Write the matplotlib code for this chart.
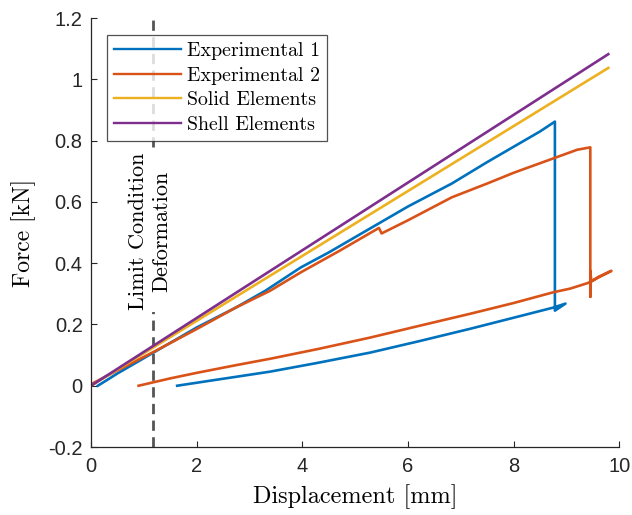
import matplotlib
matplotlib.use("Agg")
import matplotlib.pyplot as plt

# ---- data ----
exp1_x = [0.13, 0.5, 1.0, 1.5, 2.0, 2.74, 3.3, 3.97, 4.5, 5.0, 5.47, 6.0, 6.83, 7.5, 8.0, 8.5, 8.78,
          8.78, 8.98, 8.75, 8.0, 7.18, 6.2, 5.28, 4.3, 3.39, 2.74, 2.2, 1.63]
exp1_y = [0.0, 0.04, 0.09, 0.14, 0.19, 0.255, 0.31, 0.386, 0.435, 0.485, 0.532, 0.585, 0.66, 0.73, 0.78, 0.83, 0.862,
          0.245, 0.268, 0.255, 0.222, 0.186, 0.145, 0.108, 0.075, 0.046, 0.029, 0.015, 0.0]

exp2_x = [0.0, 0.5, 1.18, 2.0, 2.74, 3.39, 3.97, 4.7, 5.2, 5.45, 5.5, 6.0, 6.83, 7.5, 8.0, 8.8, 9.2, 9.45,
          9.45, 9.45, 9.47, 9.6, 9.85, 9.4, 9.07, 8.75, 8.0, 7.18, 6.2, 5.28, 4.3, 3.39, 2.74, 2.0, 1.5, 0.9]
exp2_y = [0.005, 0.05, 0.11, 0.185, 0.255, 0.31, 0.37, 0.44, 0.49, 0.515, 0.497, 0.54, 0.615, 0.66, 0.695, 0.745, 0.77, 0.778,
          0.29, 0.375, 0.34, 0.355, 0.375, 0.335, 0.317, 0.305, 0.27, 0.235, 0.195, 0.157, 0.12, 0.088, 0.067, 0.042, 0.024, 0.0]

solid_x = [0.0, 9.79]
solid_y = [0.0, 1.037]
shell_x = [0.0, 9.79]
shell_y = [0.0, 1.082]

limit_x = 1.18
xticks = [0, 2, 4, 6, 8, 10]
yticks = [-0.2, 0, 0.2, 0.4, 0.6, 0.8, 1.0, 1.2]
ytick_labels = ['-0.2', '0', '0.2', '0.4', '0.6', '0.8', '1', '1.2']
labels = ['Experimental 1', 'Experimental 2', 'Solid Elements', 'Shell Elements']

# ---- figure ----
fig = plt.figure(figsize=(6.32, 5.15), dpi=100)
ax = fig.add_axes([0.144, 0.132, 0.836, 0.833])

c1, c2, c3, c4 = '#0072BD', '#D95319', '#EDB120', '#7E2F8E'
ax.plot(exp1_x, exp1_y, color=c1, lw=1.9, label=labels[0])
ax.plot(exp2_x, exp2_y, color=c2, lw=1.9, label=labels[1])
ax.plot(solid_x, solid_y, color=c3, lw=1.9, label=labels[2])
ax.plot(shell_x, shell_y, color=c4, lw=1.9, label=labels[3])

ax.axvline(limit_x, color='#555555', lw=2.0, ls=(0, (3.7, 2.3)), zorder=1)
ax.text(1.12, 0.505, 'Limit Condition\nDeformation', rotation=90, ha='center', va='center',
        family='cmr10', fontsize=16, linespacing=1.25, zorder=5,
        bbox=dict(facecolor='white', edgecolor='none', pad=1.5))

ax.set_xlim(0, 10)
ax.set_ylim(-0.2, 1.2)
ax.set_xticks(xticks)
ax.set_yticks(yticks)
ax.set_yticklabels(ytick_labels)
for lab in ax.get_xticklabels() + ax.get_yticklabels():
    lab.set_family('Liberation Sans')
    lab.set_fontsize(14.5)
    lab.set_color('#262626')
ax.tick_params(direction='in', length=4.5, width=0.8, color='#262626')
ax.tick_params(axis='x', pad=7)
ax.tick_params(axis='y', pad=6)
for s in ['top', 'right']:
    ax.spines[s].set_visible(False)
for s in ['left', 'bottom']:
    ax.spines[s].set_color('#262626')
    ax.spines[s].set_linewidth(0.9)

ax.set_xlabel('Displacement [mm]', family='cmr10', fontsize=17.5, labelpad=6)
ax.set_ylabel('Force [kN]', family='cmr10', fontsize=17, labelpad=9)

leg = ax.legend(loc='upper left', bbox_to_anchor=(0.03, 0.96), prop={'family': 'cmr10', 'size': 14.3},
                frameon=True, fancybox=False, edgecolor='#262626', handlelength=3.4,
                handletextpad=0.3, labelspacing=0.33, borderpad=0.35, borderaxespad=0)
leg.get_frame().set_linewidth(0.9)
for h in leg.get_lines():
    h.set_linewidth(1.7)

fig.savefig('out.png', dpi=100, facecolor='white')
